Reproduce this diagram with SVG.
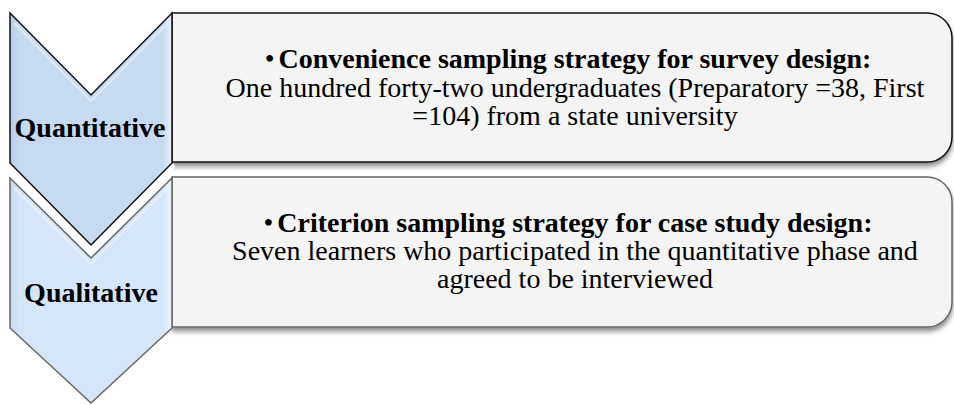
<svg xmlns="http://www.w3.org/2000/svg" width="954" height="405" viewBox="0 0 954 405">
<defs>
<style>
.t{font-family:"Liberation Serif","Times New Roman",serif;fill:#000;text-anchor:middle}
.b{font-weight:bold}
.n{font-weight:normal}
.body{font-size:28px}
.lab{font-size:28px;font-weight:bold}
</style>
<linearGradient id="g1" x1="0" y1="0" x2="1" y2="0">
<stop offset="0" stop-color="#b7cde8"/>
<stop offset="0.06" stop-color="#c6daf1"/>
<stop offset="0.94" stop-color="#c6daf1"/>
<stop offset="1" stop-color="#e6f0fb"/>
</linearGradient>
<linearGradient id="g2" x1="0" y1="0" x2="1" y2="0">
<stop offset="0" stop-color="#c4d8ef"/>
<stop offset="0.06" stop-color="#d5e6fb"/>
<stop offset="0.94" stop-color="#d5e6fb"/>
<stop offset="1" stop-color="#eef5fd"/>
</linearGradient>
<filter id="sh" x="-5%" y="-10%" width="110%" height="130%">
<feGaussianBlur in="SourceAlpha" stdDeviation="2.5"/>
<feOffset dx="0" dy="4" result="o"/>
<feComponentTransfer><feFuncA type="linear" slope="0.45"/></feComponentTransfer>
<feMerge><feMergeNode/><feMergeNode in="SourceGraphic"/></feMerge>
</filter>
</defs>
<rect width="954" height="405" fill="#fff"/>
<g id="box1">
<path d="M172,13 H927 A25,25 0 0 1 952,38 V137 A25,25 0 0 1 927,162 H172 Z" fill="#f4f4f4" stroke="#111" stroke-width="1.5" filter="url(#sh)"/>
<text class="t body"><tspan x="568" y="68"><tspan class="n">•</tspan><tspan class="b" dx="4">Convenience sampling strategy for survey design:</tspan></tspan><tspan x="575" y="97">One hundred forty-two undergraduates (Preparatory =38, First</tspan><tspan x="575" y="125">=104) from a state university</tspan></text>
</g>
<g id="box2">
<path d="M172,177 H927 A25,25 0 0 1 952,202 V302 A25,25 0 0 1 927,327 H172 Z" fill="#f4f4f4" stroke="#666" stroke-width="1.5" filter="url(#sh)"/>
<text class="t body"><tspan x="568" y="232"><tspan class="n">•</tspan><tspan class="b" dx="4">Criterion sampling strategy for case study design:</tspan></tspan><tspan x="575" y="260">Seven learners who participated in the quantitative phase and</tspan><tspan x="575" y="288">agreed to be interviewed</tspan></text>
</g>
<g id="chev2">
<path d="M10,178 L91,258 L172,178 V328 L91,403 L10,328 Z" fill="url(#g2)" stroke="#666" stroke-width="1.5"/>
<path d="M14,188 L91,264 L168,188" fill="none" stroke="#eef5fd" stroke-width="2" opacity="0.8"/>
<text class="t lab" x="91" y="302">Qualitative</text>
</g>
<g id="chev1">
<path d="M10,163 L91,245 L172,163" fill="none" stroke="#fff" stroke-width="10" stroke-linejoin="miter"/>
<path d="M10,13 L91,95 L172,13 V163 L91,245 L10,163 Z" fill="url(#g1)" stroke="#111" stroke-width="1.5" stroke-linejoin="miter"/>
<path d="M14,23 L91,101 L168,23" fill="none" stroke="#e3eefa" stroke-width="2" opacity="0.8"/>
<text class="t lab" x="90" y="137">Quantitative</text>
</g>
<g id="connectors"></g>
</svg>
